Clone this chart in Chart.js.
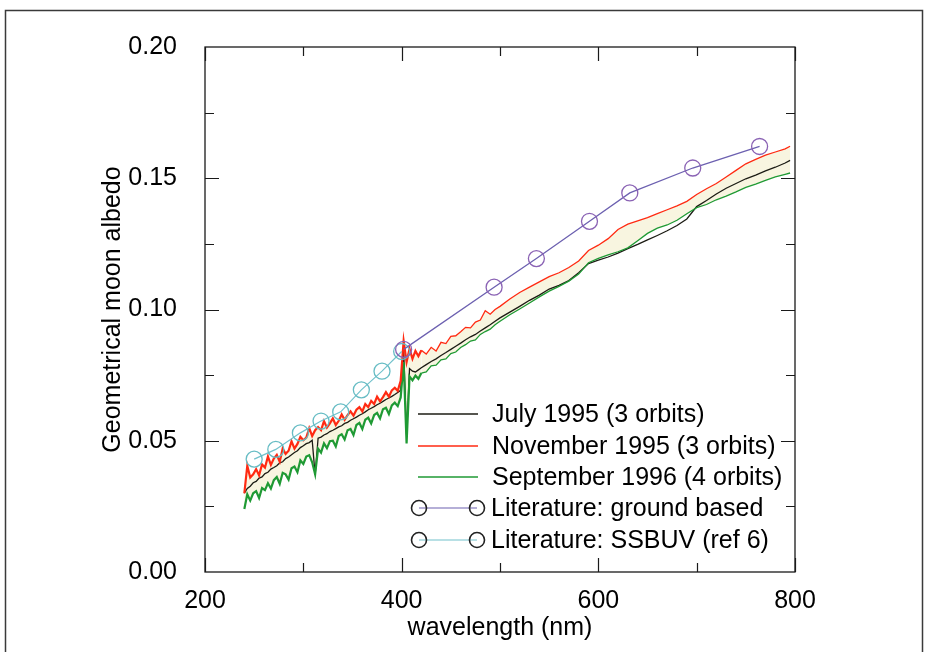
<!DOCTYPE html>
<html>
<head>
<meta charset="utf-8">
<style>
  html, body { margin: 0; padding: 0; background: #fff; }
  #wrap { width: 930px; height: 652px; }
</style>
<script src="https://cdn.jsdelivr.net/npm/chart.js@4.4.1/dist/chart.umd.min.js"></script>
</head>
<body>
<div id="wrap"><canvas id="myChart" width="930" height="652"></canvas></div>
<script>
// wavelength grid (nm) shared by the three measured spectra
const wl = [240,243,246,249,252,255,258,261,264,267,270,273,276,279,282,285,288,291,294,297,
  300,303,306,309,312,315,318,321,324,327,330,333,336,339,342,345,348,351,354,357,
  360,363,366,369,372,375,378,381,384,387,390,393,396,399,402,405,408,411,414,417,420,
  425,430,435,440,445,450,455,460,465,470,475,480,485,490,495,500,
  510,520,530,540,550,560,570,580,590,600,610,620,630,640,650,660,670,680,690,700,
  710,720,730,740,750,760,770,780,790,795];

const july95 = [0.0300,0.0318,0.0327,0.0340,0.0345,0.0358,0.0362,0.0375,0.0380,0.0392,
  0.0398,0.0405,0.0416,0.0420,0.0432,0.0438,0.0447,0.0455,0.0462,0.0474,
  0.0481,0.0489,0.0493,0.0502,0.0370,0.0510,0.0514,0.0522,0.0527,0.0535,
  0.0540,0.0546,0.0553,0.0557,0.0566,0.0570,0.0578,0.0584,0.0590,0.0597,
  0.0603,0.0610,0.0618,0.0624,0.0630,0.0637,0.0643,0.0650,0.0657,0.0663,
  0.0669,0.0676,0.0684,0.0692,0.0850,0.0520,0.0775,0.0765,0.0762,0.0770,0.0778,
  0.0790,0.0802,0.0812,0.0825,0.0836,0.0848,0.0860,0.0872,0.0885,0.0896,0.0905,0.0918,0.0930,0.0942,0.0955,0.0968,
  0.0990,0.1012,0.1035,0.1055,0.1078,0.1092,0.1110,0.1140,0.1175,0.1188,
  0.1200,0.1215,0.1232,0.1248,0.1265,0.1282,0.1300,0.1320,0.1345,0.1392,
  0.1415,0.1440,0.1462,0.1480,0.1498,0.1512,0.1528,0.1542,0.1558,0.1568];

const nov95 = [0.0300,0.0405,0.0360,0.0372,0.0392,0.0368,0.0410,0.0398,0.0440,0.0408,
  0.0432,0.0446,0.0420,0.0470,0.0450,0.0462,0.0498,0.0470,0.0488,0.0515,
  0.0502,0.0512,0.0548,0.0518,0.0540,0.0552,0.0540,0.0575,0.0550,0.0566,
  0.0585,0.0560,0.0576,0.0600,0.0580,0.0598,0.0612,0.0596,0.0618,0.0628,
  0.0612,0.0640,0.0628,0.0652,0.0640,0.0668,0.0650,0.0666,0.0685,0.0668,
  0.0692,0.0702,0.0690,0.0728,0.0880,0.0800,0.0850,0.0812,0.0842,0.0822,0.0845,
  0.0830,0.0856,0.0842,0.0875,0.0870,0.0898,0.0900,0.0915,0.0932,0.0930,0.0952,0.0960,0.0995,0.0982,0.1000,0.1012,
  0.1040,0.1065,0.1085,0.1105,0.1125,0.1140,0.1160,0.1185,0.1225,0.1245,
  0.1270,0.1305,0.1325,0.1338,0.1350,0.1365,0.1380,0.1395,0.1412,0.1438,
  0.1460,0.1480,0.1505,0.1530,0.1555,0.1572,0.1588,0.1600,0.1612,0.1622];

const sep96 = [0.0240,0.0296,0.0272,0.0300,0.0308,0.0282,0.0320,0.0312,0.0338,0.0318,
  0.0350,0.0362,0.0336,0.0378,0.0372,0.0352,0.0395,0.0402,0.0380,0.0425,
  0.0412,0.0440,0.0445,0.0418,0.0372,0.0470,0.0455,0.0490,0.0472,0.0498,
  0.0500,0.0478,0.0518,0.0525,0.0505,0.0540,0.0545,0.0522,0.0560,0.0568,
  0.0545,0.0580,0.0588,0.0566,0.0598,0.0606,0.0585,0.0620,0.0626,0.0602,
  0.0635,0.0645,0.0632,0.0665,0.0800,0.0490,0.0745,0.0730,0.0748,0.0736,0.0758,
  0.0762,0.0785,0.0788,0.0808,0.0812,0.0832,0.0838,0.0855,0.0866,0.0880,0.0884,0.0905,0.0916,0.0925,0.0942,0.0955,
  0.0980,0.1002,0.1025,0.1048,0.1070,0.1088,0.1108,0.1135,0.1178,0.1195,
  0.1208,0.1220,0.1235,0.1262,0.1290,0.1310,0.1322,0.1340,0.1365,0.1388,
  0.1400,0.1418,0.1432,0.1448,0.1465,0.1478,0.1492,0.1505,0.1515,0.1520];

// literature values
const groundWl = [402, 494, 537, 591, 632, 696, 764];
const groundVal = [0.0848, 0.1085, 0.1194, 0.1336, 0.1444, 0.1539, 0.1621];
const ssbuvWl = [250, 272, 297, 318, 338, 359, 380, 400];
const ssbuvVal = [0.0430, 0.0467, 0.0530, 0.0575, 0.0610, 0.0694, 0.0765, 0.0840];

// axis ticks
const xMajor = [200, 400, 600, 800];
const xMinor = [300, 500, 700];
const yMajor = [0.05, 0.10, 0.15];
const yMinor = [0.025, 0.075, 0.125, 0.175];

const legendLabels = ['July 1995 (3 orbits)', 'November 1995 (3 orbits)', 'September 1996 (4 orbits)',
  'Literature: ground based', 'Literature: SSBUV (ref 6)'];

const FONT = '"Liberation Sans", Arial, Helvetica, sans-serif';

function pts(xs, ys) {
  return xs.map((v, i) => ({x: v, y: ys[i]}));
}

// thicker strokes in the noisy UV part
const uvWidth = w => ({ borderWidth: s => (s.p1.parsed.x <= 420 ? w : 1.3) });

const cBlack = '#1c1c14';
const cRed = '#ff2a12';
const cGreen = '#1f9a34';
const cGround = '#6c60b0';
const cSsbuv = '#72c2cc';

const decor = {
  id: 'decor',
  afterDraw(chart) {
    const {ctx, chartArea: a, scales: {x, y}} = chart;
    ctx.save();
    // outer frame of the figure
    ctx.strokeStyle = '#3a3a3a';
    ctx.lineWidth = 1.5;
    ctx.beginPath();
    ctx.moveTo(5.5, 700); ctx.lineTo(5.5, 10.5); ctx.lineTo(922.5, 10.5); ctx.lineTo(922.5, 700);
    ctx.stroke();

    // plot box
    ctx.strokeStyle = '#1a1a1a';
    ctx.lineWidth = 1.3;
    ctx.strokeRect(a.left, a.top, a.right - a.left, a.bottom - a.top);

    // inward ticks
    ctx.lineWidth = 1.2;
    ctx.beginPath();
    const xt = (v, len) => {
      const px = Math.round(x.getPixelForValue(v)) + 0.5;
      ctx.moveTo(px, a.bottom); ctx.lineTo(px, a.bottom - len);
      ctx.moveTo(px, a.top); ctx.lineTo(px, a.top + len);
    };
    const yt = (v, len) => {
      const py = Math.round(y.getPixelForValue(v)) + 0.5;
      ctx.moveTo(a.left, py); ctx.lineTo(a.left + len, py);
      ctx.moveTo(a.right, py); ctx.lineTo(a.right - len, py);
    };
    xMajor.forEach(v => xt(v, 14));
    xMinor.forEach(v => xt(v, 9));
    yMajor.forEach(v => yt(v, 14));
    yMinor.forEach(v => yt(v, 9));
    ctx.stroke();

    // legend inside the plot
    const ds = chart.data.datasets;
    const rows = [414, 446, 477, 508, 540];
    ctx.font = '25px ' + FONT;
    ctx.fillStyle = '#000';
    ctx.textBaseline = 'middle';
    ctx.textAlign = 'left';
    rows.forEach((ry, i) => {
      if (i < 3) {
        ctx.strokeStyle = ds[i].borderColor;
        ctx.lineWidth = 1.3;
        ctx.beginPath();
        ctx.moveTo(418, ry); ctx.lineTo(478, ry);
        ctx.stroke();
        ctx.fillText(legendLabels[i], 492, ry + 1);
      } else {
        ctx.strokeStyle = ds[i].borderColor;
        ctx.lineWidth = 1.2;
        ctx.beginPath();
        ctx.moveTo(419, ry); ctx.lineTo(477, ry);
        ctx.stroke();
        ctx.strokeStyle = '#222';
        ctx.lineWidth = 1.6;
        [419, 477].forEach(cx => {
          ctx.beginPath();
          ctx.arc(cx, ry, 7.5, 0, Math.PI * 2);
          ctx.stroke();
        });
        ctx.fillText(legendLabels[i], 491, ry + 1);
      }
    });
    ctx.restore();
  }
};

const ctx = document.getElementById('myChart').getContext('2d');
const myChart = new Chart(ctx, {
  type: 'scatter',
  data: {
    datasets: [
      {
        label: legendLabels[0],
        data: pts(wl, july95),
        showLine: true,
        borderColor: cBlack,
        borderWidth: 1.3,
        pointRadius: 0,
        order: 3
      },
      {
        label: legendLabels[1],
        data: pts(wl, nov95),
        showLine: true,
        borderColor: cRed,
        borderWidth: 1.3,
        segment: uvWidth(2.2),
        pointRadius: 0,
        fill: {target: 2},
        backgroundColor: 'rgba(248, 245, 224, 1)',
        order: 1
      },
      {
        label: legendLabels[2],
        data: pts(wl, sep96),
        showLine: true,
        borderColor: cGreen,
        borderWidth: 1.3,
        segment: uvWidth(2.2),
        pointRadius: 0,
        order: 2
      },
      {
        label: legendLabels[3],
        data: pts(groundWl, groundVal),
        showLine: true,
        borderColor: cGround,
        borderWidth: 1.3,
        pointRadius: 8,
        pointBorderColor: '#8a62b4',
        pointBackgroundColor: 'rgba(0,0,0,0)',
        pointBorderWidth: 1.3,
        order: 0
      },
      {
        label: legendLabels[4],
        data: pts(ssbuvWl, ssbuvVal),
        showLine: true,
        borderColor: cSsbuv,
        borderWidth: 1.2,
        pointRadius: 8,
        pointBorderColor: '#66bcc4',
        pointBackgroundColor: 'rgba(0,0,0,0)',
        pointBorderWidth: 1.3,
        order: 0
      }
    ]
  },
  options: {
    responsive: false,
    animation: false,
    layout: { padding: { left: 0, right: 135, top: 47, bottom: 0 } },
    plugins: {
      legend: { display: false },
      tooltip: { enabled: false },
      filler: { drawTime: 'beforeDatasetsDraw' }
    },
    scales: {
      x: {
        type: 'linear',
        min: 200,
        max: 800,
        grid: { display: false },
        border: { display: false },
        afterFit: s => { s.height = 80; },
        ticks: {
          stepSize: 200,
          padding: 6,
          color: '#000',
          font: { family: FONT, size: 25 },
          maxRotation: 0
        },
        title: {
          display: true,
          text: 'wavelength (nm)',
          color: '#000',
          font: { family: FONT, size: 25 },
          padding: { top: 0, bottom: 9 }
        }
      },
      y: {
        min: 0,
        max: 0.2,
        grid: { display: false },
        border: { display: false },
        afterFit: s => { s.width = 205; },
        ticks: {
          stepSize: 0.05,
          padding: 20,
          color: '#000',
          font: { family: FONT, size: 25 },
          callback: v => v.toFixed(2)
        },
        title: {
          display: true,
          text: 'Geometrical moon albedo',
          color: '#000',
          font: { family: FONT, size: 25 },
          padding: { top: 98, bottom: 0 }
        }
      }
    }
  },
  plugins: [decor]
});
</script>
</body>
</html>
